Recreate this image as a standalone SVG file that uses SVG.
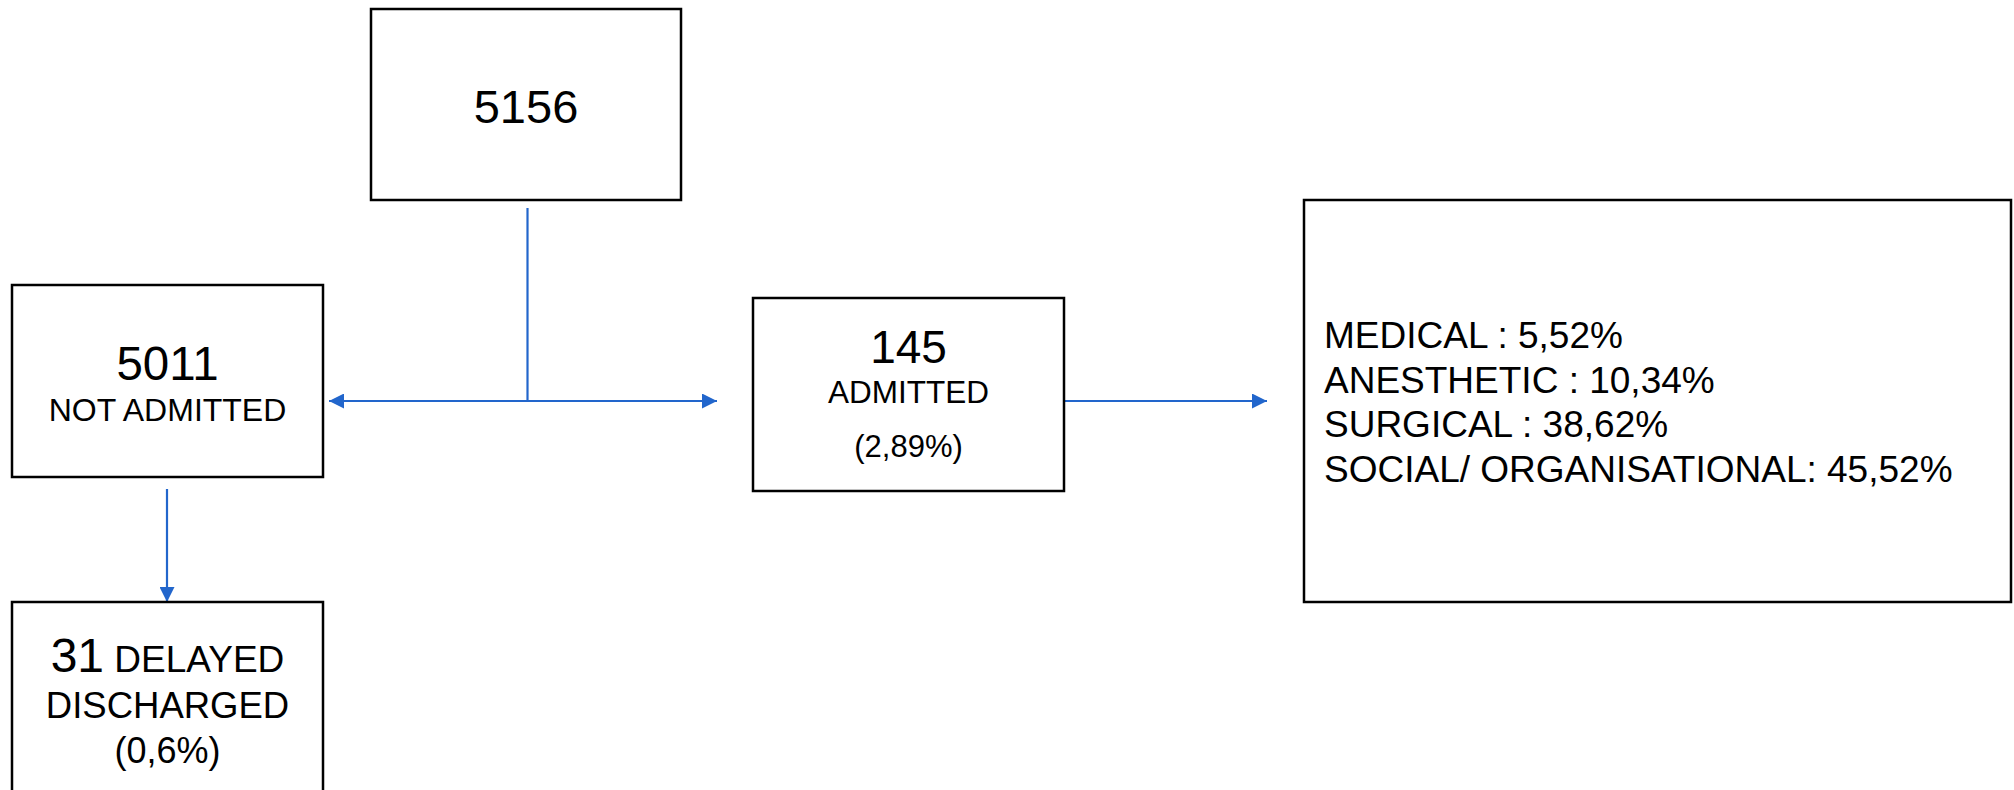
<svg xmlns="http://www.w3.org/2000/svg" width="2014" height="790" viewBox="0 0 2014 790">
<style>
.box{fill:#fff;stroke:#000;stroke-width:2.5}
.t{font-family:"Liberation Sans",Arial,sans-serif;fill:#000}
.c{text-anchor:middle}
.con{fill:none;stroke:#2266CC;stroke-width:2.2}
</style>
<defs>
<marker id="ah" viewBox="0 0 15 15" refX="15" refY="7.5" markerWidth="15" markerHeight="15" markerUnits="userSpaceOnUse" orient="auto-start-reverse">
<path d="M0,0 L15,7.5 L0,15 Z" fill="#2266CC"/>
</marker>
</defs>
<rect width="2014" height="790" fill="#fff"/>
<g id="connectors">
<path class="con" d="M527.5,208 V401"/>
<path class="con" d="M329,401 H717" marker-start="url(#ah)" marker-end="url(#ah)"/>
<path class="con" d="M1064,401 H1267" marker-end="url(#ah)"/>
<path class="con" d="M167,489 V602" marker-end="url(#ah)"/>
</g>
<g id="n5156">
<rect class="box" x="371" y="9" width="310" height="191"/>
<text class="t c" x="526" y="123" font-size="47">5156</text>
</g>
<g id="n5011">
<rect class="box" x="12" y="285" width="311" height="192"/>
<text class="t c" x="167.5" y="380" font-size="47.5">5011</text>
<text class="t c" x="167.5" y="421" font-size="32">NOT ADMITTED</text>
</g>
<g id="n145">
<rect class="box" x="753" y="298" width="311" height="193"/>
<text class="t c" x="908.5" y="363" font-size="46">145</text>
<text class="t c" x="908.5" y="403" font-size="31.5">ADMITTED</text>
<text class="t c" x="908.5" y="457" font-size="31">(2,89%)</text>
</g>
<g id="ncauses">
<rect class="box" x="1304" y="200" width="707" height="402"/>
<text class="t" x="1324" y="348" font-size="37">MEDICAL : 5,52%</text>
<text class="t" x="1324" y="393" font-size="37">ANESTHETIC : 10,34%</text>
<text class="t" x="1324" y="437" font-size="37">SURGICAL : 38,62%</text>
<text class="t" x="1324" y="482" font-size="37">SOCIAL/ ORGANISATIONAL: 45,52%</text>
</g>
<g id="n31">
<rect class="box" x="12" y="602" width="311" height="200"/>
<text class="t c" x="167.5" y="672"><tspan font-size="48">31</tspan><tspan font-size="37"> DELAYED</tspan></text>
<text class="t c" x="167.5" y="718" font-size="36.5">DISCHARGED</text>
<text class="t c" x="167.5" y="763" font-size="36">(0,6%)</text>
</g>
</svg>
